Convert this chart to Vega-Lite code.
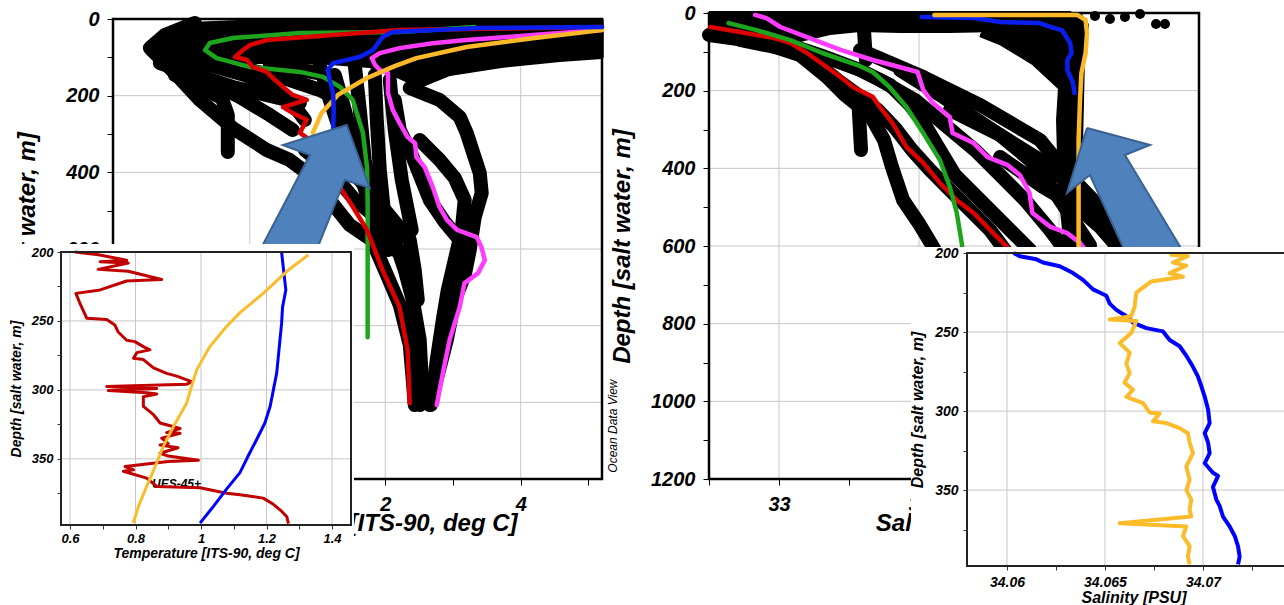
{
"$schema": "https://vega.github.io/schema/vega-lite/v6.json",
"width": 1284, "height": 605, "padding": 0, "autosize": {"type": "none"},
"background": "white",
"config": {"view": {"stroke": null}, "axis": {"grid": false, "domain": false}, "font": "Liberation Sans"},
"datasets": {
"lgv": [{"temp":0},{"temp":2},{"temp":4}],
"lgh": [{"depth":200},{"depth":400},{"depth":600},{"depth":800},{"depth":1000}],
"rgv": [{"sal":33},{"sal":34},{"sal":35}],
"rgh": [{"depth":200},{"depth":400},{"depth":600},{"depth":800},{"depth":1000}],
"igv": [{"temp":0.6},{"temp":0.8},{"temp":1.0},{"temp":1.2},{"temp":1.4}],
"igh": [{"depth":250},{"depth":300},{"depth":350}],
"jgv": [{"sal":34.06},{"sal":34.065},{"sal":34.07}],
"jgh": [{"depth":250},{"depth":300},{"depth":350}],
"lpoly": [
{"profile":"top","temp":-0.886,"depth":13},{"profile":"top","temp":0.148,"depth":5.2},{"profile":"top","temp":2.214,"depth":2.6},{"profile":"top","temp":5.196,"depth":2.6},{"profile":"top","temp":5.196,"depth":99},{"profile":"top","temp":4.576,"depth":107},{"profile":"top","temp":3.69,"depth":123},{"profile":"top","temp":2.952,"depth":143.5},{"profile":"top","temp":2.509,"depth":175},{"profile":"top","temp":2.14,"depth":146},{"profile":"top","temp":1.771,"depth":122.6},{"profile":"top","temp":1.181,"depth":114.8},{"profile":"top","temp":0.59,"depth":112.2},{"profile":"top","temp":0,"depth":112.2},{"profile":"top","temp":-0.59,"depth":112.2},{"profile":"top","temp":-1.033,"depth":107},{"profile":"top","temp":-1.358,"depth":99},{"profile":"top","temp":-1.506,"depth":81},{"profile":"top","temp":-1.446,"depth":55},{"profile":"top","temp":-1.255,"depth":28.7}
],
"lblk": [
{"profile":"K1","temp":-0.812,"depth":10.4},{"profile":"K1","temp":-1.255,"depth":41.7},{"profile":"K1","temp":-1.476,"depth":75.7},{"profile":"K1","temp":-1.328,"depth":101.8},{"profile":"K1","temp":-1.107,"depth":140.9},{"profile":"K1","temp":-0.738,"depth":211.3},{"profile":"K1","temp":-0.251,"depth":284.4},{"profile":"K1","temp":0.251,"depth":341.8},{"profile":"K1","temp":0.59,"depth":367.9},{"profile":"K1","temp":0.886,"depth":407},{"profile":"K1","temp":1.181,"depth":472.2},{"profile":"K1","temp":1.476,"depth":537.5},{"profile":"K1","temp":1.801,"depth":576.6},{"profile":"K1","temp":1.993,"depth":654.9},{"profile":"K1","temp":2.214,"depth":746.2},{"profile":"K1","temp":2.362,"depth":850.5},{"profile":"K1","temp":2.406,"depth":941.8},{"profile":"K1","temp":2.435,"depth":1007.1},
{"profile":"K2","temp":0.812,"depth":341.8},{"profile":"K2","temp":1.181,"depth":394},{"profile":"K2","temp":1.55,"depth":472.2},{"profile":"K2","temp":1.919,"depth":524.4},{"profile":"K2","temp":2.14,"depth":576.6},{"profile":"K2","temp":2.288,"depth":654.9},{"profile":"K2","temp":2.406,"depth":733.1},{"profile":"K2","temp":2.509,"depth":837.5},{"profile":"K2","temp":2.539,"depth":941.8},{"profile":"K2","temp":2.509,"depth":1007.1},
{"profile":"K3","temp":1.328,"depth":341.8},{"profile":"K3","temp":1.624,"depth":420},{"profile":"K3","temp":1.993,"depth":498.3},{"profile":"K3","temp":2.362,"depth":576.6},{"profile":"K3","temp":2.435,"depth":654.9},{"profile":"K3","temp":2.48,"depth":733.1},
{"profile":"B1","temp":-1.328,"depth":114.8},{"profile":"B1","temp":-0.251,"depth":177.4},{"profile":"B1","temp":0.738,"depth":219.2},
{"profile":"B2","temp":-0.738,"depth":151.3},{"profile":"B2","temp":-0.148,"depth":203.5},{"profile":"B2","temp":0.295,"depth":250.5},{"profile":"B2","temp":0.635,"depth":289.6},
{"profile":"B3","temp":-1.107,"depth":146.1},{"profile":"B3","temp":-0.738,"depth":177.4},{"profile":"B3","temp":-0.413,"depth":206.1},{"profile":"B3","temp":-0.325,"depth":250.5},{"profile":"B3","temp":-0.325,"depth":347},
{"profile":"B5","temp":-1.181,"depth":107},{"profile":"B5","temp":-0.59,"depth":120},{"profile":"B5","temp":-0.074,"depth":146.1},{"profile":"B5","temp":0.295,"depth":172.2},{"profile":"B5","temp":0.59,"depth":211.3},{"profile":"B5","temp":0.812,"depth":263.5},
{"profile":"C1","temp":1.255,"depth":146.1},{"profile":"C1","temp":1.402,"depth":237.4},{"profile":"C1","temp":1.55,"depth":341.8},{"profile":"C1","temp":1.742,"depth":472.2},{"profile":"C1","temp":1.919,"depth":576.6},
{"profile":"C2","temp":1.845,"depth":146.1},{"profile":"C2","temp":1.875,"depth":263.5},{"profile":"C2","temp":1.919,"depth":394},{"profile":"C2","temp":1.993,"depth":524.4},{"profile":"C2","temp":2.14,"depth":602.7},
{"profile":"C3","temp":1.033,"depth":120},{"profile":"C3","temp":1.181,"depth":211.3},{"profile":"C3","temp":1.328,"depth":289.6},{"profile":"C3","temp":1.55,"depth":394},
{"profile":"C4","temp":1.55,"depth":120},{"profile":"C4","temp":1.624,"depth":237.4},{"profile":"C4","temp":1.697,"depth":367.9},{"profile":"C4","temp":1.845,"depth":498.3},{"profile":"C4","temp":2.037,"depth":602.7},
{"profile":"C5","temp":2.066,"depth":159.1},{"profile":"C5","temp":2.14,"depth":289.6},{"profile":"C5","temp":2.244,"depth":420},{"profile":"C5","temp":2.391,"depth":550.5},
{"profile":"D3","temp":0,"depth":133},{"profile":"D3","temp":0.59,"depth":159.1},{"profile":"D3","temp":1.033,"depth":185.2},{"profile":"D3","temp":1.328,"depth":211.3},
{"profile":"D4","temp":0.295,"depth":120},{"profile":"D4","temp":0.738,"depth":133},{"profile":"D4","temp":1.181,"depth":146.1},
{"profile":"RA1","temp":2.362,"depth":180},{"profile":"RA1","temp":2.804,"depth":211.3},{"profile":"RA1","temp":3.1,"depth":255.7},{"profile":"RA1","temp":3.203,"depth":297.4},{"profile":"RA1","temp":3.395,"depth":401.8},{"profile":"RA1","temp":3.424,"depth":454},{"profile":"RA1","temp":3.321,"depth":516.6},{"profile":"RA1","temp":3.247,"depth":602.7},{"profile":"RA1","temp":3.173,"depth":667.9},{"profile":"RA1","temp":3.026,"depth":733.1},{"profile":"RA1","temp":2.908,"depth":837.5},{"profile":"RA1","temp":2.775,"depth":928.8},{"profile":"RA1","temp":2.657,"depth":1007.1},
{"profile":"RA2","temp":2.509,"depth":315.7},{"profile":"RA2","temp":2.804,"depth":367.9},{"profile":"RA2","temp":3.026,"depth":414.8},{"profile":"RA2","temp":3.173,"depth":472.2},{"profile":"RA2","temp":3.129,"depth":550.5},{"profile":"RA2","temp":3.026,"depth":628.8},{"profile":"RA2","temp":2.923,"depth":707},{"profile":"RA2","temp":2.849,"depth":785.3},{"profile":"RA2","temp":2.76,"depth":889.7},{"profile":"RA2","temp":2.672,"depth":1007.1},
{"profile":"RA3","temp":2.14,"depth":211.3},{"profile":"RA3","temp":2.214,"depth":289.6},{"profile":"RA3","temp":2.362,"depth":341.8},{"profile":"RA3","temp":2.509,"depth":407},{"profile":"RA3","temp":2.657,"depth":472.2},{"profile":"RA3","temp":2.878,"depth":529.6},{"profile":"RA3","temp":3.1,"depth":576.6}
],
"lcol": [
{"line":"green","temp":3.32,"depth":21},{"line":"green","temp":2.21,"depth":34},{"line":"green","temp":0.74,"depth":36.5},{"line":"green","temp":-0.25,"depth":49.6},{"line":"green","temp":-0.59,"depth":62.6},{"line":"green","temp":-0.66,"depth":81},{"line":"green","temp":-0.49,"depth":102},{"line":"green","temp":0,"depth":125},{"line":"green","temp":0.74,"depth":138},{"line":"green","temp":1.08,"depth":151},{"line":"green","temp":1.33,"depth":177},{"line":"green","temp":1.52,"depth":211},{"line":"green","temp":1.67,"depth":297},{"line":"green","temp":1.73,"depth":386},{"line":"green","temp":1.74,"depth":472},{"line":"green","temp":1.74,"depth":603},{"line":"green","temp":1.74,"depth":830},
{"line":"red","temp":5.2,"depth":21},{"line":"red","temp":2.21,"depth":29},{"line":"red","temp":1.23,"depth":42},{"line":"red","temp":0.25,"depth":55},{"line":"red","temp":0,"depth":68},{"line":"red","temp":-0.1,"depth":81},{"line":"red","temp":-0.22,"depth":99},{"line":"red","temp":-0.04,"depth":107},{"line":"red","temp":0.04,"depth":125},{"line":"red","temp":0.25,"depth":138},{"line":"red","temp":0.34,"depth":154},{"line":"red","temp":0.49,"depth":177},{"line":"red","temp":0.63,"depth":198},{"line":"red","temp":0.84,"depth":211},{"line":"red","temp":0.49,"depth":230},{"line":"red","temp":0.63,"depth":245},{"line":"red","temp":0.84,"depth":263},{"line":"red","temp":0.74,"depth":297},{"line":"red","temp":0.89,"depth":316},{"line":"red","temp":1.11,"depth":368},{"line":"red","temp":1.33,"depth":438},{"line":"red","temp":1.52,"depth":490},{"line":"red","temp":1.73,"depth":550},{"line":"red","temp":1.96,"depth":655},{"line":"red","temp":2.21,"depth":751},{"line":"red","temp":2.33,"depth":864},{"line":"red","temp":2.36,"depth":1002},
{"line":"magenta","temp":5.2,"depth":29},{"line":"magenta","temp":4.18,"depth":42},{"line":"magenta","temp":3.2,"depth":55},{"line":"magenta","temp":2.7,"depth":63},{"line":"magenta","temp":2.21,"depth":76},{"line":"magenta","temp":1.92,"depth":89},{"line":"magenta","temp":1.8,"depth":102},{"line":"magenta","temp":1.85,"depth":120},{"line":"magenta","temp":1.92,"depth":133},{"line":"magenta","temp":2.04,"depth":141},{"line":"magenta","temp":2.04,"depth":193},{"line":"magenta","temp":2.11,"depth":237},{"line":"magenta","temp":2.21,"depth":271},{"line":"magenta","temp":2.33,"depth":308},{"line":"magenta","temp":2.44,"depth":324},{"line":"magenta","temp":2.46,"depth":360},{"line":"magenta","temp":2.58,"depth":386},{"line":"magenta","temp":2.7,"depth":438},{"line":"magenta","temp":2.8,"depth":490},{"line":"magenta","temp":2.91,"depth":524},{"line":"magenta","temp":3.06,"depth":550},{"line":"magenta","temp":3.35,"depth":569},{"line":"magenta","temp":3.42,"depth":595},{"line":"magenta","temp":3.47,"depth":629},{"line":"magenta","temp":3.37,"depth":663},{"line":"magenta","temp":3.17,"depth":689},{"line":"magenta","temp":3.1,"depth":751},{"line":"magenta","temp":2.95,"depth":837},{"line":"magenta","temp":2.85,"depth":924},{"line":"magenta","temp":2.76,"depth":1007},
{"line":"orange","temp":5.2,"depth":29},{"line":"orange","temp":4.18,"depth":50},{"line":"orange","temp":3.2,"depth":73},{"line":"orange","temp":2.46,"depth":102},{"line":"orange","temp":2.14,"depth":123},{"line":"orange","temp":1.73,"depth":154},{"line":"orange","temp":1.3,"depth":198},{"line":"orange","temp":1.06,"depth":245},{"line":"orange","temp":0.93,"depth":297},
{"line":"blue","temp":5.2,"depth":21},{"line":"blue","temp":3.39,"depth":23.5},{"line":"blue","temp":2.11,"depth":34},{"line":"blue","temp":1.96,"depth":47},{"line":"blue","temp":1.82,"depth":81},{"line":"blue","temp":1.62,"depth":99},{"line":"blue","temp":1.23,"depth":115},{"line":"blue","temp":1.15,"depth":133},{"line":"blue","temp":1.18,"depth":159},{"line":"blue","temp":1.23,"depth":193},{"line":"blue","temp":1.24,"depth":237},{"line":"blue","temp":1.23,"depth":290},{"line":"blue","temp":1.22,"depth":300},{"line":"blue","temp":1.17,"depth":336},{"line":"blue","temp":1.12,"depth":360},{"line":"blue","temp":1.04,"depth":384},{"line":"blue","temp":1.0,"depth":397}
],
"larrow": [
{"temp":0.059,"depth":634},{"temp":0.886,"depth":354.8},{"temp":0.487,"depth":328.7},{"temp":1.432,"depth":276.6},{"temp":1.771,"depth":440.9},{"temp":1.402,"depth":420},{"temp":0.915,"depth":634},{"temp":0.059,"depth":634}
],
"rpoly": [
{"profile":"top","sal":32.5,"depth":0},{"profile":"top","sal":35.079,"depth":0},{"profile":"top","sal":35.093,"depth":30.9},{"profile":"top","sal":34.579,"depth":43.8},{"profile":"top","sal":34.221,"depth":46.4},{"profile":"top","sal":33.864,"depth":46.4},{"profile":"top","sal":33.579,"depth":43.8},{"profile":"top","sal":33.364,"depth":51.5},{"profile":"top","sal":33.15,"depth":69.5},{"profile":"top","sal":32.936,"depth":74.7},{"profile":"top","sal":32.721,"depth":64.4},{"profile":"top","sal":32.5,"depth":51.5},
{"profile":"wedge","sal":34.507,"depth":5.2},{"profile":"wedge","sal":35.15,"depth":5.2},{"profile":"wedge","sal":35.2,"depth":30.9},{"profile":"wedge","sal":35.171,"depth":121},{"profile":"wedge","sal":35.15,"depth":455.8},{"profile":"wedge","sal":35.114,"depth":610},{"profile":"wedge","sal":35.05,"depth":610},{"profile":"wedge","sal":35.007,"depth":455.8},{"profile":"wedge","sal":34.993,"depth":275.6},{"profile":"wedge","sal":35.007,"depth":193.1},{"profile":"wedge","sal":34.814,"depth":128.8},{"profile":"wedge","sal":34.579,"depth":77.3},{"profile":"wedge","sal":34.436,"depth":56.7}
],
"rblk": [
{"profile":"RB1","sal":32.5,"depth":56.7},{"profile":"RB1","sal":32.864,"depth":74.7},{"profile":"RB1","sal":33.15,"depth":108.2},{"profile":"RB1","sal":33.343,"depth":164.8},{"profile":"RB1","sal":33.471,"depth":211.2},{"profile":"RB1","sal":33.65,"depth":262.7},{"profile":"RB1","sal":33.75,"depth":327.1},{"profile":"RB1","sal":33.807,"depth":396.6},{"profile":"RB1","sal":33.886,"depth":481.6},{"profile":"RB1","sal":34.007,"depth":546},{"profile":"RB1","sal":34.114,"depth":610.3},
{"profile":"RB2","sal":32.721,"depth":69.5},{"profile":"RB2","sal":33.079,"depth":95.3},{"profile":"RB2","sal":33.257,"depth":126.2},{"profile":"RB2","sal":33.436,"depth":177.7},{"profile":"RB2","sal":33.564,"depth":211.2},{"profile":"RB2","sal":33.707,"depth":249.8},{"profile":"RB2","sal":33.829,"depth":296.2},{"profile":"RB2","sal":33.95,"depth":352.8},{"profile":"RB2","sal":34.079,"depth":404.3},{"profile":"RB2","sal":34.221,"depth":455.8},{"profile":"RB2","sal":34.364,"depth":507.3},{"profile":"RB2","sal":34.507,"depth":558.8},{"profile":"RB2","sal":34.614,"depth":610.3},
{"profile":"RB3","sal":32.864,"depth":56.7},{"profile":"RB3","sal":33.293,"depth":108.2},{"profile":"RB3","sal":33.579,"depth":146.8},{"profile":"RB3","sal":33.793,"depth":185.4},{"profile":"RB3","sal":33.936,"depth":236.9},{"profile":"RB3","sal":34.043,"depth":288.4},{"profile":"RB3","sal":34.15,"depth":352.8},{"profile":"RB3","sal":34.257,"depth":417.2},{"profile":"RB3","sal":34.4,"depth":468.7},{"profile":"RB3","sal":34.543,"depth":520.2},{"profile":"RB3","sal":34.686,"depth":571.7},{"profile":"RB3","sal":34.793,"depth":610.3},
{"profile":"RB4","sal":33.579,"depth":95.3},{"profile":"RB4","sal":34.029,"depth":164.8},{"profile":"RB4","sal":34.436,"depth":236.9},{"profile":"RB4","sal":34.864,"depth":327.1},{"profile":"RB4","sal":35.057,"depth":412},{"profile":"RB4","sal":35.293,"depth":499.6},{"profile":"RB4","sal":35.507,"depth":584.6},{"profile":"RB4","sal":35.579,"depth":615.5},
{"profile":"RB5","sal":34.221,"depth":249.8},{"profile":"RB5","sal":34.579,"depth":314.2},{"profile":"RB5","sal":34.864,"depth":378.6},{"profile":"RB5","sal":35.129,"depth":455.8},{"profile":"RB5","sal":35.293,"depth":520.2},{"profile":"RB5","sal":35.471,"depth":610.3},
{"profile":"RB7","sal":34.579,"depth":370.8},{"profile":"RB7","sal":34.886,"depth":448.1},{"profile":"RB7","sal":35.129,"depth":499.6},{"profile":"RB7","sal":35.293,"depth":551.1},{"profile":"RB7","sal":35.436,"depth":610.3},
{"profile":"RB8","sal":33.864,"depth":146.8},{"profile":"RB8","sal":34.15,"depth":211.2},{"profile":"RB8","sal":34.364,"depth":262.7},{"profile":"RB8","sal":34.579,"depth":314.2},{"profile":"RB8","sal":34.793,"depth":378.6},{"profile":"RB8","sal":34.936,"depth":443},{"profile":"RB8","sal":35.079,"depth":520.2},{"profile":"RB8","sal":35.221,"depth":597.5},
{"profile":"RB9","sal":33.721,"depth":172.5},{"profile":"RB9","sal":33.971,"depth":224},{"profile":"RB9","sal":34.186,"depth":288.4},{"profile":"RB9","sal":34.4,"depth":352.8},{"profile":"RB9","sal":34.579,"depth":417.2},{"profile":"RB9","sal":34.757,"depth":481.6},{"profile":"RB9","sal":34.936,"depth":558.8},{"profile":"RB9","sal":35.043,"depth":610.3},
{"profile":"F1","sal":33.607,"depth":43.8},{"profile":"F1","sal":33.621,"depth":121},
{"profile":"F2","sal":33.564,"depth":211.2},{"profile":"F2","sal":33.586,"depth":352.8}
],
"rdots": [
{"sal":35.257,"depth":7.7},{"sal":35.364,"depth":15.5},{"sal":35.471,"depth":10.3},{"sal":35.579,"depth":2.6},{"sal":35.693,"depth":28.3},{"sal":35.757,"depth":28.3}
],
"rcol": [
{"line":"red","sal":32.51,"depth":36},{"line":"red","sal":32.72,"depth":49},{"line":"red","sal":32.96,"depth":64},{"line":"red","sal":33.08,"depth":77},{"line":"red","sal":33.2,"depth":103},{"line":"red","sal":33.34,"depth":139},{"line":"red","sal":33.44,"depth":165},{"line":"red","sal":33.53,"depth":191},{"line":"red","sal":33.67,"depth":216},{"line":"red","sal":33.72,"depth":242},{"line":"red","sal":33.81,"depth":283},{"line":"red","sal":33.91,"depth":345},{"line":"red","sal":34.03,"depth":386},{"line":"red","sal":34.15,"depth":438},{"line":"red","sal":34.27,"depth":482},{"line":"red","sal":34.39,"depth":515},{"line":"red","sal":34.53,"depth":567},{"line":"red","sal":34.6,"depth":592},{"line":"red","sal":34.65,"depth":610},
{"line":"green","sal":32.64,"depth":26},{"line":"green","sal":32.84,"depth":44},{"line":"green","sal":33.08,"depth":70},{"line":"green","sal":33.31,"depth":103},{"line":"green","sal":33.56,"depth":134},{"line":"green","sal":33.67,"depth":152},{"line":"green","sal":33.79,"depth":191},{"line":"green","sal":33.91,"depth":242},{"line":"green","sal":34.03,"depth":309},{"line":"green","sal":34.15,"depth":379},{"line":"green","sal":34.22,"depth":448},{"line":"green","sal":34.27,"depth":515},{"line":"green","sal":34.31,"depth":603},{"line":"green","sal":34.32,"depth":640},
{"line":"magenta","sal":32.83,"depth":5},{"line":"magenta","sal":32.91,"depth":13},{"line":"magenta","sal":33.01,"depth":36},{"line":"magenta","sal":33.2,"depth":62},{"line":"magenta","sal":33.44,"depth":95},{"line":"magenta","sal":33.67,"depth":121},{"line":"magenta","sal":33.86,"depth":139},{"line":"magenta","sal":33.99,"depth":152},{"line":"magenta","sal":34.03,"depth":198},{"line":"magenta","sal":34.1,"depth":232},{"line":"magenta","sal":34.22,"depth":268},{"line":"magenta","sal":34.24,"depth":309},{"line":"magenta","sal":34.39,"depth":335},{"line":"magenta","sal":34.49,"depth":371},{"line":"magenta","sal":34.63,"depth":391},{"line":"magenta","sal":34.72,"depth":417},{"line":"magenta","sal":34.79,"depth":464},{"line":"magenta","sal":34.81,"depth":515},{"line":"magenta","sal":34.94,"depth":551},{"line":"magenta","sal":35.06,"depth":567},{"line":"magenta","sal":35.15,"depth":592},{"line":"magenta","sal":35.2,"depth":615},
{"line":"blue","sal":34.02,"depth":10},{"line":"blue","sal":34.39,"depth":13},{"line":"blue","sal":34.58,"depth":23},{"line":"blue","sal":34.86,"depth":26},{"line":"blue","sal":34.94,"depth":36},{"line":"blue","sal":35.02,"depth":44},{"line":"blue","sal":35.08,"depth":77},{"line":"blue","sal":35.09,"depth":103},{"line":"blue","sal":35.06,"depth":121},{"line":"blue","sal":35.06,"depth":147},{"line":"blue","sal":35.1,"depth":180},{"line":"blue","sal":35.11,"depth":206},
{"line":"orange","sal":34.11,"depth":5},{"line":"orange","sal":34.58,"depth":5},{"line":"orange","sal":35.13,"depth":5},{"line":"orange","sal":35.19,"depth":18},{"line":"orange","sal":35.2,"depth":52},{"line":"orange","sal":35.19,"depth":103},{"line":"orange","sal":35.16,"depth":155},{"line":"orange","sal":35.15,"depth":224},{"line":"orange","sal":35.14,"depth":327},{"line":"orange","sal":35.14,"depth":620}
],
"rarrow": [
{"sal":35.2,"depth":296.2},{"sal":35.057,"depth":463.6},{"sal":35.221,"depth":417.2},{"sal":35.493,"depth":631},{"sal":35.914,"depth":631},{"sal":35.471,"depth":365.7},{"sal":35.65,"depth":339.9},{"sal":35.2,"depth":296.2}
],
"ilines": [
{"line":"ired","temp":0.615,"depth":200},{"line":"ired","temp":0.687,"depth":202},{"line":"ired","temp":0.773,"depth":206},{"line":"ired","temp":0.692,"depth":207},{"line":"ired","temp":0.778,"depth":208},{"line":"ired","temp":0.686,"depth":212.6},{"line":"ired","temp":0.778,"depth":214},{"line":"ired","temp":0.88,"depth":220},{"line":"ired","temp":0.773,"depth":221},{"line":"ired","temp":0.692,"depth":227.5},{"line":"ired","temp":0.618,"depth":230},{"line":"ired","temp":0.63,"depth":237},{"line":"ired","temp":0.651,"depth":248},{"line":"ired","temp":0.712,"depth":249},{"line":"ired","temp":0.737,"depth":253},{"line":"ired","temp":0.747,"depth":258},{"line":"ired","temp":0.773,"depth":264},{"line":"ired","temp":0.798,"depth":265},{"line":"ired","temp":0.824,"depth":268.6},{"line":"ired","temp":0.844,"depth":271},{"line":"ired","temp":0.804,"depth":273},{"line":"ired","temp":0.794,"depth":277},{"line":"ired","temp":0.824,"depth":278},{"line":"ired","temp":0.855,"depth":284},{"line":"ired","temp":0.895,"depth":288},{"line":"ired","temp":0.926,"depth":290},{"line":"ired","temp":0.971,"depth":294},{"line":"ired","temp":0.956,"depth":296},{"line":"ired","temp":0.712,"depth":297.6},{"line":"ired","temp":0.865,"depth":299},{"line":"ired","temp":0.717,"depth":300.5},{"line":"ired","temp":0.834,"depth":302},{"line":"ired","temp":0.865,"depth":303},{"line":"ired","temp":0.824,"depth":305},{"line":"ired","temp":0.824,"depth":312},{"line":"ired","temp":0.855,"depth":318},{"line":"ired","temp":0.875,"depth":324},{"line":"ired","temp":0.936,"depth":328},{"line":"ired","temp":0.895,"depth":331},{"line":"ired","temp":0.936,"depth":331.5},{"line":"ired","temp":0.88,"depth":335},{"line":"ired","temp":0.9,"depth":339},{"line":"ired","temp":0.875,"depth":340},{"line":"ired","temp":0.93,"depth":342},{"line":"ired","temp":0.875,"depth":346},{"line":"ired","temp":0.9,"depth":348},{"line":"ired","temp":0.992,"depth":351},{"line":"ired","temp":0.9,"depth":352},{"line":"ired","temp":0.768,"depth":355.6},{"line":"ired","temp":0.794,"depth":358},{"line":"ired","temp":0.763,"depth":359},{"line":"ired","temp":0.834,"depth":364},{"line":"ired","temp":0.865,"depth":370},{"line":"ired","temp":0.997,"depth":371},{"line":"ired","temp":1.078,"depth":375},{"line":"ired","temp":1.119,"depth":376},{"line":"ired","temp":1.19,"depth":378.5},{"line":"ired","temp":1.221,"depth":383},{"line":"ired","temp":1.246,"depth":388},{"line":"ired","temp":1.262,"depth":392},{"line":"ired","temp":1.267,"depth":397},
{"line":"iblue","temp":1.246,"depth":200},{"line":"iblue","temp":1.253,"depth":215},{"line":"iblue","temp":1.259,"depth":227.5},{"line":"iblue","temp":1.249,"depth":240},{"line":"iblue","temp":1.246,"depth":252},{"line":"iblue","temp":1.241,"depth":264},{"line":"iblue","temp":1.236,"depth":276},{"line":"iblue","temp":1.231,"depth":288},{"line":"iblue","temp":1.221,"depth":300},{"line":"iblue","temp":1.211,"depth":312},{"line":"iblue","temp":1.195,"depth":324},{"line":"iblue","temp":1.17,"depth":336},{"line":"iblue","temp":1.144,"depth":348},{"line":"iblue","temp":1.119,"depth":360},{"line":"iblue","temp":1.078,"depth":372},{"line":"iblue","temp":1.038,"depth":384.5},{"line":"iblue","temp":0.997,"depth":396.6},
{"line":"iorange","temp":1.328,"depth":202},{"line":"iorange","temp":1.262,"depth":214},{"line":"iorange","temp":1.19,"depth":230},{"line":"iorange","temp":1.119,"depth":244},{"line":"iorange","temp":1.078,"depth":254},{"line":"iorange","temp":1.027,"depth":268.6},{"line":"iorange","temp":0.987,"depth":285.5},{"line":"iorange","temp":0.971,"depth":297.6},{"line":"iorange","temp":0.956,"depth":309.7},{"line":"iorange","temp":0.916,"depth":326.6},{"line":"iorange","temp":0.885,"depth":341},{"line":"iorange","temp":0.86,"depth":355.6},{"line":"iorange","temp":0.834,"depth":370},{"line":"iorange","temp":0.809,"depth":384.5},{"line":"iorange","temp":0.793,"depth":396.6}
],
"jlines": [
{"line":"iblue","sal":34.06034,"depth":200},{"line":"iblue","sal":34.06065,"depth":202},{"line":"iblue","sal":34.0615,"depth":204},{"line":"iblue","sal":34.06184,"depth":206},{"line":"iblue","sal":34.06269,"depth":208.4},{"line":"iblue","sal":34.06337,"depth":212.7},{"line":"iblue","sal":34.06388,"depth":217},{"line":"iblue","sal":34.06439,"depth":223},{"line":"iblue","sal":34.06473,"depth":225},{"line":"iblue","sal":34.06507,"depth":227},{"line":"iblue","sal":34.06524,"depth":232},{"line":"iblue","sal":34.06558,"depth":236},{"line":"iblue","sal":34.06609,"depth":240},{"line":"iblue","sal":34.06643,"depth":244},{"line":"iblue","sal":34.06711,"depth":247.5},{"line":"iblue","sal":34.06796,"depth":249.6},{"line":"iblue","sal":34.0683,"depth":255},{"line":"iblue","sal":34.06881,"depth":259},{"line":"iblue","sal":34.06915,"depth":265},{"line":"iblue","sal":34.06949,"depth":272},{"line":"iblue","sal":34.06974,"depth":278},{"line":"iblue","sal":34.06991,"depth":284},{"line":"iblue","sal":34.07009,"depth":291},{"line":"iblue","sal":34.07026,"depth":299},{"line":"iblue","sal":34.07034,"depth":307.6},{"line":"iblue","sal":34.07009,"depth":314},{"line":"iblue","sal":34.07026,"depth":320},{"line":"iblue","sal":34.07034,"depth":326.6},{"line":"iblue","sal":34.07009,"depth":333},{"line":"iblue","sal":34.07051,"depth":339},{"line":"iblue","sal":34.07077,"depth":341},{"line":"iblue","sal":34.07051,"depth":348},{"line":"iblue","sal":34.07068,"depth":356},{"line":"iblue","sal":34.07085,"depth":360},{"line":"iblue","sal":34.07102,"depth":366.7},{"line":"iblue","sal":34.07136,"depth":373},{"line":"iblue","sal":34.07162,"depth":379},{"line":"iblue","sal":34.07179,"depth":385.6},{"line":"iblue","sal":34.07187,"depth":392},{"line":"iblue","sal":34.07179,"depth":397},
{"line":"iorange","sal":34.0683,"depth":201},{"line":"iorange","sal":34.06923,"depth":202},{"line":"iorange","sal":34.06847,"depth":206},{"line":"iorange","sal":34.06915,"depth":208},{"line":"iorange","sal":34.0683,"depth":212.7},{"line":"iorange","sal":34.06898,"depth":215},{"line":"iorange","sal":34.06736,"depth":218},{"line":"iorange","sal":34.0666,"depth":225},{"line":"iorange","sal":34.06651,"depth":234},{"line":"iorange","sal":34.06634,"depth":240},{"line":"iorange","sal":34.06524,"depth":242},{"line":"iorange","sal":34.0666,"depth":243},{"line":"iorange","sal":34.06634,"depth":250.6},{"line":"iorange","sal":34.06575,"depth":257},{"line":"iorange","sal":34.06626,"depth":263},{"line":"iorange","sal":34.06609,"depth":270},{"line":"iorange","sal":34.06626,"depth":276},{"line":"iorange","sal":34.066,"depth":282},{"line":"iorange","sal":34.06643,"depth":286.5},{"line":"iorange","sal":34.06609,"depth":291},{"line":"iorange","sal":34.06694,"depth":295},{"line":"iorange","sal":34.06728,"depth":301},{"line":"iorange","sal":34.06779,"depth":301.5},{"line":"iorange","sal":34.06745,"depth":306.5},{"line":"iorange","sal":34.06813,"depth":307.6},{"line":"iorange","sal":34.06881,"depth":310.8},{"line":"iorange","sal":34.06923,"depth":314},{"line":"iorange","sal":34.06932,"depth":320},{"line":"iorange","sal":34.06949,"depth":326.6},{"line":"iorange","sal":34.06915,"depth":335},{"line":"iorange","sal":34.06932,"depth":343.5},{"line":"iorange","sal":34.06915,"depth":350},{"line":"iorange","sal":34.0694,"depth":356},{"line":"iorange","sal":34.06932,"depth":362.4},{"line":"iorange","sal":34.0694,"depth":366.7},{"line":"iorange","sal":34.06575,"depth":371},{"line":"iorange","sal":34.06915,"depth":373},{"line":"iorange","sal":34.06898,"depth":379},{"line":"iorange","sal":34.06932,"depth":385.6},{"line":"iorange","sal":34.06923,"depth":392},{"line":"iorange","sal":34.06932,"depth":397}
]
},
"resolve": {"scale": {"x": "independent", "y": "independent"}, "axis": {"x": "independent", "y": "independent"}},
"layer": [
{
"layer": [
{"data": {"name": "lgv"}, "mark": {"type": "rule", "color": "#c6c6c6", "strokeWidth": 1},
 "encoding": {
  "x": {"field": "temp", "type": "quantitative", "scale": {"domain": [-2.02, 5.2], "range": [113, 602], "nice": false, "zero": false},
   "axis": {"orient": "bottom", "offset": -126, "values": [-2,-1,0,1,2,3,4,5], "labelExpr": "round(datum.value) % 2 == 0 ? format(datum.value, 'd') : ''", "tickSize": 6, "tickColor": "#000", "labelPadding": 9, "labelFont": "Liberation Sans", "labelFontSize": 20, "labelFontWeight": "bold", "labelFontStyle": "italic", "labelColor": "#000", "labelFlush": false, "labelOverlap": false, "title": "Temperature [ITS-90, deg C]", "titleFont": "Liberation Sans", "titleFontSize": 24, "titleFontWeight": "bold", "titleFontStyle": "italic", "titleColor": "#000", "titlePadding": -3, "zindex": 0}},
  "y": {"datum": 0, "type": "quantitative", "scale": {"domain": [0, 1200], "range": [19, 479], "nice": false, "zero": false},
   "axis": {"orient": "left", "offset": -113, "values": [0,100,200,300,400,500,600,700,800,900,1000,1100,1200], "labelExpr": "datum.value % 200 == 0 ? format(datum.value, 'd') : ''", "tickSize": 6, "tickColor": "#000", "labelPadding": 8, "labelFont": "Liberation Sans", "labelFontSize": 20, "labelFontWeight": "bold", "labelFontStyle": "italic", "labelColor": "#000", "labelOverlap": false, "title": "Depth [salt water, m]", "titleFont": "Liberation Sans", "titleFontSize": 24, "titleFontWeight": "bold", "titleFontStyle": "italic", "titleColor": "#000", "titlePadding": 15, "zindex": 0}},
  "y2": {"datum": 1200}}},
{"data": {"name": "lgh"}, "mark": {"type": "rule", "color": "#c6c6c6", "strokeWidth": 1},
 "encoding": {
  "y": {"field": "depth", "type": "quantitative", "scale": {"domain": [0, 1200], "range": [19, 479], "nice": false, "zero": false}},
  "x": {"datum": -2.02, "type": "quantitative", "scale": {"domain": [-2.02, 5.2], "range": [113, 602], "nice": false, "zero": false}},
  "x2": {"datum": 5.2}}},
{"data": {"values": [{}]}, "mark": {"type": "rect", "filled": false, "color": "#000", "strokeWidth": 2.5},
 "encoding": {
  "x": {"datum": -2.02, "type": "quantitative", "scale": {"domain": [-2.02, 5.2], "range": [113, 602], "nice": false, "zero": false}}, "x2": {"datum": 5.2},
  "y": {"datum": 0, "type": "quantitative", "scale": {"domain": [0, 1200], "range": [19, 479], "nice": false, "zero": false}}, "y2": {"datum": 1200}}},
{"data": {"name": "lpoly"}, "mark": {"type": "line", "filled": true, "fill": "#000", "stroke": "#000", "strokeWidth": 4, "strokeJoin": "round"},
 "encoding": {
  "x": {"field": "temp", "type": "quantitative", "scale": {"domain": [-2.02, 5.2], "range": [113, 602], "nice": false, "zero": false}},
  "y": {"field": "depth", "type": "quantitative", "scale": {"domain": [0, 1200], "range": [19, 479], "nice": false, "zero": false}},
  "detail": {"field": "profile"}, "order": {"value": null}}},
{"data": {"name": "lblk"}, "mark": {"type": "line", "color": "#000", "strokeWidth": 14, "strokeCap": "round", "strokeJoin": "round"},
 "encoding": {
  "x": {"field": "temp", "type": "quantitative", "scale": {"domain": [-2.02, 5.2], "range": [113, 602], "nice": false, "zero": false}},
  "y": {"field": "depth", "type": "quantitative", "scale": {"domain": [0, 1200], "range": [19, 479], "nice": false, "zero": false}},
  "detail": {"field": "profile"}, "order": {"value": null}}},
{"data": {"name": "lcol"}, "mark": {"type": "line", "strokeWidth": 4.5, "strokeCap": "round", "strokeJoin": "round"},
 "encoding": {
  "x": {"field": "temp", "type": "quantitative", "scale": {"domain": [-2.02, 5.2], "range": [113, 602], "nice": false, "zero": false}},
  "y": {"field": "depth", "type": "quantitative", "scale": {"domain": [0, 1200], "range": [19, 479], "nice": false, "zero": false}},
  "color": {"field": "line", "type": "nominal", "scale": {"domain": ["green","red","blue","magenta","orange","ired","iblue","iorange"], "range": ["#1ea51e","#dc0000","#0a1ef0","#ff3cff","#fbb829","#c00000","#0000ff","#fbbc2c"]}, "legend": null},
  "order": {"value": null}}},
{"data": {"values": [{}]}, "mark": {"type": "text", "angle": 270, "font": "Liberation Sans", "fontSize": 12, "fontStyle": "italic", "color": "#000", "align": "center", "baseline": "middle"},
 "encoding": {
  "x": {"datum": 5.36, "type": "quantitative", "scale": {"domain": [-2.02, 5.2], "range": [113, 602], "nice": false, "zero": false}},
  "y": {"datum": 1062, "type": "quantitative", "scale": {"domain": [0, 1200], "range": [19, 479], "nice": false, "zero": false}},
  "text": {"value": "Ocean Data View"}}},
{"data": {"name": "larrow"}, "mark": {"type": "line", "filled": true, "fill": "#4f81bd", "stroke": "#3a6291", "strokeWidth": 2, "strokeJoin": "miter"},
 "encoding": {
  "x": {"field": "temp", "type": "quantitative", "scale": {"domain": [-2.02, 5.2], "range": [113, 602], "nice": false, "zero": false}},
  "y": {"field": "depth", "type": "quantitative", "scale": {"domain": [0, 1200], "range": [19, 479], "nice": false, "zero": false}},
  "order": {"value": null}}}
]
},
{
"layer": [
{"data": {"name": "rgv"}, "mark": {"type": "rule", "color": "#c6c6c6", "strokeWidth": 1},
 "encoding": {
  "x": {"field": "sal", "type": "quantitative", "scale": {"domain": [32.5, 36], "range": [709, 1199], "nice": false, "zero": false},
   "axis": {"orient": "bottom", "offset": -126, "values": [32.5,33,33.5,34,34.5,35,35.5,36], "labelExpr": "datum.value % 1 == 0 ? format(datum.value, 'd') : ''", "tickSize": 6, "tickColor": "#000", "labelPadding": 9, "labelFont": "Liberation Sans", "labelFontSize": 20, "labelFontWeight": "bold", "labelFontStyle": "italic", "labelColor": "#000", "labelFlush": false, "labelOverlap": false, "title": "Salinity [PSU]", "titleFont": "Liberation Sans", "titleFontSize": 24, "titleFontWeight": "bold", "titleFontStyle": "italic", "titleColor": "#000", "titlePadding": -3, "zindex": 0}},
  "y": {"datum": 0, "type": "quantitative", "scale": {"domain": [0, 1200], "range": [13, 479], "nice": false, "zero": false},
   "axis": {"orient": "left", "offset": -709, "values": [0,100,200,300,400,500,600,700,800,900,1000,1100,1200], "labelExpr": "datum.value % 200 == 0 ? format(datum.value, 'd') : ''", "tickSize": 6, "tickColor": "#000", "labelPadding": 8, "labelFont": "Liberation Sans", "labelFontSize": 20, "labelFontWeight": "bold", "labelFontStyle": "italic", "labelColor": "#000", "labelOverlap": false, "title": "Depth [salt water, m]", "titleFont": "Liberation Sans", "titleFontSize": 24, "titleFontWeight": "bold", "titleFontStyle": "italic", "titleColor": "#000", "titlePadding": 16, "zindex": 0}},
  "y2": {"datum": 1200}}},
{"data": {"name": "rgh"}, "mark": {"type": "rule", "color": "#c6c6c6", "strokeWidth": 1},
 "encoding": {
  "y": {"field": "depth", "type": "quantitative", "scale": {"domain": [0, 1200], "range": [13, 479], "nice": false, "zero": false}},
  "x": {"datum": 32.5, "type": "quantitative", "scale": {"domain": [32.5, 36], "range": [709, 1199], "nice": false, "zero": false}},
  "x2": {"datum": 36}}},
{"data": {"values": [{}]}, "mark": {"type": "rect", "filled": false, "color": "#000", "strokeWidth": 2.5},
 "encoding": {
  "x": {"datum": 32.5, "type": "quantitative", "scale": {"domain": [32.5, 36], "range": [709, 1199], "nice": false, "zero": false}}, "x2": {"datum": 36},
  "y": {"datum": 0, "type": "quantitative", "scale": {"domain": [0, 1200], "range": [13, 479], "nice": false, "zero": false}}, "y2": {"datum": 1200}}},
{"data": {"name": "rpoly"}, "mark": {"type": "line", "filled": true, "fill": "#000", "stroke": "#000", "strokeWidth": 4, "strokeJoin": "round"},
 "encoding": {
  "x": {"field": "sal", "type": "quantitative", "scale": {"domain": [32.5, 36], "range": [709, 1199], "nice": false, "zero": false}},
  "y": {"field": "depth", "type": "quantitative", "scale": {"domain": [0, 1200], "range": [13, 479], "nice": false, "zero": false}},
  "detail": {"field": "profile"}, "order": {"value": null}}},
{"data": {"name": "rblk"}, "mark": {"type": "line", "color": "#000", "strokeWidth": 14, "strokeCap": "round", "strokeJoin": "round"},
 "encoding": {
  "x": {"field": "sal", "type": "quantitative", "scale": {"domain": [32.5, 36], "range": [709, 1199], "nice": false, "zero": false}},
  "y": {"field": "depth", "type": "quantitative", "scale": {"domain": [0, 1200], "range": [13, 479], "nice": false, "zero": false}},
  "detail": {"field": "profile"}, "order": {"value": null}}},
{"data": {"name": "rdots"}, "mark": {"type": "point", "filled": true, "color": "#000", "size": 100, "opacity": 1},
 "encoding": {
  "x": {"field": "sal", "type": "quantitative", "scale": {"domain": [32.5, 36], "range": [709, 1199], "nice": false, "zero": false}},
  "y": {"field": "depth", "type": "quantitative", "scale": {"domain": [0, 1200], "range": [13, 479], "nice": false, "zero": false}}}},
{"data": {"name": "rcol"}, "mark": {"type": "line", "strokeWidth": 4.5, "strokeCap": "round", "strokeJoin": "round"},
 "encoding": {
  "x": {"field": "sal", "type": "quantitative", "scale": {"domain": [32.5, 36], "range": [709, 1199], "nice": false, "zero": false}},
  "y": {"field": "depth", "type": "quantitative", "scale": {"domain": [0, 1200], "range": [13, 479], "nice": false, "zero": false}},
  "color": {"field": "line", "type": "nominal", "legend": null},
  "order": {"value": null}}},
{"data": {"name": "rarrow"}, "mark": {"type": "line", "filled": true, "fill": "#4f81bd", "stroke": "#3a6291", "strokeWidth": 2, "strokeJoin": "miter"},
 "encoding": {
  "x": {"field": "sal", "type": "quantitative", "scale": {"domain": [32.5, 36], "range": [709, 1199], "nice": false, "zero": false}},
  "y": {"field": "depth", "type": "quantitative", "scale": {"domain": [0, 1200], "range": [13, 479], "nice": false, "zero": false}},
  "order": {"value": null}}}
]
},
{
"layer": [
{"data": {"values": [{}]}, "mark": {"type": "rect", "color": "#ffffff"},
 "encoding": {
  "x": {"datum": 0.37, "type": "quantitative", "scale": {"domain": [0.5725, 1.458], "range": [61, 351], "nice": false, "zero": false},
   "axis": {"orient": "bottom", "offset": -80, "values": [0.6,0.7,0.8,0.9,1.0,1.1,1.2,1.3,1.4], "labelExpr": "round(datum.value * 10) % 2 == 0 ? format(datum.value, '~g') : ''", "tickSize": 4, "tickColor": "#333", "labelPadding": 3, "labelFont": "Liberation Sans", "labelFontSize": 13, "labelFontWeight": "bold", "labelFontStyle": "italic", "labelColor": "#000", "labelFlush": false, "labelOverlap": false, "title": "Temperature [ITS-90, deg C]", "titleFont": "Liberation Sans", "titleFontSize": 14, "titleFontWeight": "bold", "titleFontStyle": "italic", "titleColor": "#000", "titlePadding": 1, "zindex": 1}},
  "x2": {"datum": 1.467},
  "y": {"datum": 194.2, "type": "quantitative", "scale": {"domain": [200, 398], "range": [252, 525], "nice": false, "zero": false},
   "axis": {"orient": "left", "offset": -61, "values": [200,225,250,275,300,325,350,375], "labelExpr": "datum.value % 50 == 0 ? format(datum.value, 'd') : ''", "tickSize": 4, "tickColor": "#333", "labelPadding": 4, "labelFont": "Liberation Sans", "labelFontSize": 13, "labelFontWeight": "bold", "labelFontStyle": "italic", "labelColor": "#000", "labelOverlap": false, "title": "Depth [salt water, m]", "titleFont": "Liberation Sans", "titleFontSize": 14, "titleFontWeight": "bold", "titleFontStyle": "italic", "titleColor": "#000", "titlePadding": 8, "zindex": 1}},
  "y2": {"datum": 456}}},
{"data": {"name": "igv"}, "mark": {"type": "rule", "color": "#c6c6c6", "strokeWidth": 1},
 "encoding": {
  "x": {"field": "temp", "type": "quantitative", "scale": {"domain": [0.5725, 1.458], "range": [61, 351], "nice": false, "zero": false}},
  "y": {"datum": 200, "type": "quantitative", "scale": {"domain": [200, 398], "range": [252, 525], "nice": false, "zero": false}}, "y2": {"datum": 398}}},
{"data": {"name": "igh"}, "mark": {"type": "rule", "color": "#c6c6c6", "strokeWidth": 1},
 "encoding": {
  "y": {"field": "depth", "type": "quantitative", "scale": {"domain": [200, 398], "range": [252, 525], "nice": false, "zero": false}},
  "x": {"datum": 0.5725, "type": "quantitative", "scale": {"domain": [0.5725, 1.458], "range": [61, 351], "nice": false, "zero": false}}, "x2": {"datum": 1.458}}},
{"data": {"values": [{}]}, "mark": {"type": "text", "font": "Liberation Sans", "fontSize": 12, "fontWeight": "bold", "fontStyle": "italic", "color": "#000", "align": "left", "baseline": "middle"},
 "encoding": {
  "x": {"datum": 0.8504, "type": "quantitative", "scale": {"domain": [0.5725, 1.458], "range": [61, 351], "nice": false, "zero": false}},
  "y": {"datum": 368, "type": "quantitative", "scale": {"domain": [200, 398], "range": [252, 525], "nice": false, "zero": false}},
  "text": {"value": "UES-45+"}}},
{"data": {"name": "ilines"}, "mark": {"type": "line", "strokeWidth": 3, "strokeJoin": "round"},
 "encoding": {
  "x": {"field": "temp", "type": "quantitative", "scale": {"domain": [0.5725, 1.458], "range": [61, 351], "nice": false, "zero": false}},
  "y": {"field": "depth", "type": "quantitative", "scale": {"domain": [200, 398], "range": [252, 525], "nice": false, "zero": false}},
  "color": {"field": "line", "type": "nominal", "legend": null},
  "order": {"value": null}}},
{"data": {"values": [{}]}, "mark": {"type": "rect", "filled": false, "color": "#222", "strokeWidth": 2},
 "encoding": {
  "x": {"datum": 0.5725, "type": "quantitative", "scale": {"domain": [0.5725, 1.458], "range": [61, 351], "nice": false, "zero": false}}, "x2": {"datum": 1.458},
  "y": {"datum": 200, "type": "quantitative", "scale": {"domain": [200, 398], "range": [252, 525], "nice": false, "zero": false}}, "y2": {"datum": 398}}}
]
},
{
"layer": [
{"data": {"values": [{}]}, "mark": {"type": "rect", "color": "#ffffff"},
 "encoding": {
  "x": {"datum": 34.0551, "type": "quantitative", "scale": {"domain": [34.05796, 34.07495], "range": [967, 1300], "nice": false, "zero": false},
   "axis": {"orient": "bottom", "offset": -39, "values": [34.06,34.0625,34.065,34.0675,34.07,34.0725], "labelExpr": "round(datum.value * 400) % 2 == 0 ? format(datum.value, '~g') : ''", "tickSize": 4, "tickColor": "#333", "labelPadding": 5, "labelFont": "Liberation Sans", "labelFontSize": 14, "labelFontWeight": "bold", "labelFontStyle": "italic", "labelColor": "#000", "labelFlush": false, "labelOverlap": false, "title": "Salinity [PSU]", "titleFont": "Liberation Sans", "titleFontSize": 16, "titleFontWeight": "bold", "titleFontStyle": "italic", "titleColor": "#000", "titlePadding": 0, "zindex": 1}},
  "x2": {"datum": 34.0745},
  "y": {"datum": 196.2, "type": "quantitative", "scale": {"domain": [200, 398], "range": [253, 566], "nice": false, "zero": false},
   "axis": {"orient": "left", "offset": -967, "values": [200,225,250,275,300,325,350,375], "labelExpr": "datum.value % 50 == 0 ? format(datum.value, 'd') : ''", "tickSize": 4, "tickColor": "#333", "labelPadding": 5, "labelFont": "Liberation Sans", "labelFontSize": 14, "labelFontWeight": "bold", "labelFontStyle": "italic", "labelColor": "#000", "labelOverlap": false, "title": "Depth [salt water, m]", "titleFont": "Liberation Sans", "titleFontSize": 16, "titleFontWeight": "bold", "titleFontStyle": "italic", "titleColor": "#000", "titlePadding": 9, "zindex": 1}},
  "y2": {"datum": 423}}},
{"data": {"name": "jgv"}, "mark": {"type": "rule", "color": "#c6c6c6", "strokeWidth": 1},
 "encoding": {
  "x": {"field": "sal", "type": "quantitative", "scale": {"domain": [34.05796, 34.07495], "range": [967, 1300], "nice": false, "zero": false}},
  "y": {"datum": 200, "type": "quantitative", "scale": {"domain": [200, 398], "range": [253, 566], "nice": false, "zero": false}}, "y2": {"datum": 398}}},
{"data": {"name": "jgh"}, "mark": {"type": "rule", "color": "#c6c6c6", "strokeWidth": 1},
 "encoding": {
  "y": {"field": "depth", "type": "quantitative", "scale": {"domain": [200, 398], "range": [253, 566], "nice": false, "zero": false}},
  "x": {"datum": 34.05796, "type": "quantitative", "scale": {"domain": [34.05796, 34.07495], "range": [967, 1300], "nice": false, "zero": false}}, "x2": {"datum": 34.07495}}},
{"data": {"name": "jlines"}, "mark": {"type": "line", "strokeWidth": 4, "strokeJoin": "round"},
 "encoding": {
  "x": {"field": "sal", "type": "quantitative", "scale": {"domain": [34.05796, 34.07495], "range": [967, 1300], "nice": false, "zero": false}},
  "y": {"field": "depth", "type": "quantitative", "scale": {"domain": [200, 398], "range": [253, 566], "nice": false, "zero": false}},
  "color": {"field": "line", "type": "nominal", "legend": null},
  "order": {"value": null}}},
{"data": {"values": [{}]}, "mark": {"type": "rect", "filled": false, "color": "#222", "strokeWidth": 2},
 "encoding": {
  "x": {"datum": 34.05796, "type": "quantitative", "scale": {"domain": [34.05796, 34.07495], "range": [967, 1300], "nice": false, "zero": false}}, "x2": {"datum": 34.07495},
  "y": {"datum": 200, "type": "quantitative", "scale": {"domain": [200, 398], "range": [253, 566], "nice": false, "zero": false}}, "y2": {"datum": 398}}}
]
}
]
}
